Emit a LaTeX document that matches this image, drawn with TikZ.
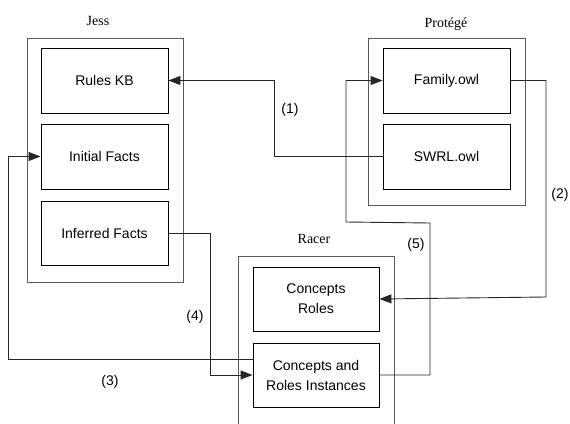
\documentclass[tikz,border=0pt]{standalone}
\usepackage{fontspec}
\setmainfont{Liberation Serif}
\setsansfont{Liberation Sans}
\usetikzlibrary{arrows.meta,calc}
\begin{document}
\begin{tikzpicture}[x=1pt,y=-1pt,
  outerbox/.style={draw=black!65,line width=1pt,inner sep=0pt},
  innerbox/.style={draw=black,line width=0.9pt,minimum width=127pt,minimum height=65pt,inner sep=0pt,
    font=\sffamily\fontsize{14}{20}\selectfont,align=center},
  grouplabel/.style={font=\rmfamily\fontsize{14}{16}\selectfont},
  numlabel/.style={font=\sffamily\fontsize{14}{16}\selectfont},
  conn/.style={draw=black!85,line width=0.9pt},
  arr/.style={conn,-{Triangle[length=12pt,width=9pt]}}]
\useasboundingbox (0,0) rectangle (570,423);
% outer boxes
\node[outerbox,minimum width=156pt,minimum height=244pt] (jess) at (105,160) {};
\node[outerbox,minimum width=157pt,minimum height=167pt] (protege) at (446.5,121.5) {};
\draw[draw=black!65,line width=1pt] (238,430) -- (238,256) -- (394,256) -- (394,430);
% group labels
\node[grouplabel] (ljess) at (98,21) {Jess};
\node[grouplabel] (lprot) at (446,24) {Protégé};
\node[grouplabel] (lracer) at (314,239) {Racer};
% inner boxes
\node[innerbox] (rules) at (104.5,80.5) {Rules KB};
\node[innerbox] (initial) at (104.5,156.5) {Initial Facts};
\node[innerbox,minimum height=64pt] (inferred) at (104.5,233) {Inferred Facts};
\node[innerbox] (family) at (446.5,80.5) {Family.owl};
\node[innerbox] (swrl) at (446.5,156.5) {SWRL.owl};
\node[innerbox,minimum width=126pt,minimum height=64pt] (cr) at (316,299) {Concepts\\Roles};
\node[innerbox,minimum width=126pt,minimum height=64pt] (cri) at (316,375) {Concepts and\\Roles Instances};
% coordinates
\coordinate (p2) at (546,297);
\coordinate (p3) at (8,359);
\coordinate (p5a) at (430,223);
\coordinate (p5b) at (346,222);
% connectors
\draw[arr] (swrl.west) -- ++(-108,0) |- (rules.east);
\draw[arr] (family.east) -| (p2) -- (cr.east);
\draw[arr] ($(cri.west)+(0,-16)$) -- (p3) |- (initial.west);
\draw[arr] (inferred.east) -- ++(42,0) |- (cri.west);
\draw[arr] (cri.east) -| (p5a) -- (p5b) |- (family.west);
% numbers
\node[numlabel] (n1) at (290,110) {(1)};
\node[numlabel] (n2) at (560,195) {(2)};
\node[numlabel] (n3) at (110,382) {(3)};
\node[numlabel] (n4) at (195,317) {(4)};
\node[numlabel] (n5) at (416,245) {(5)};
\end{tikzpicture}
\end{document}
